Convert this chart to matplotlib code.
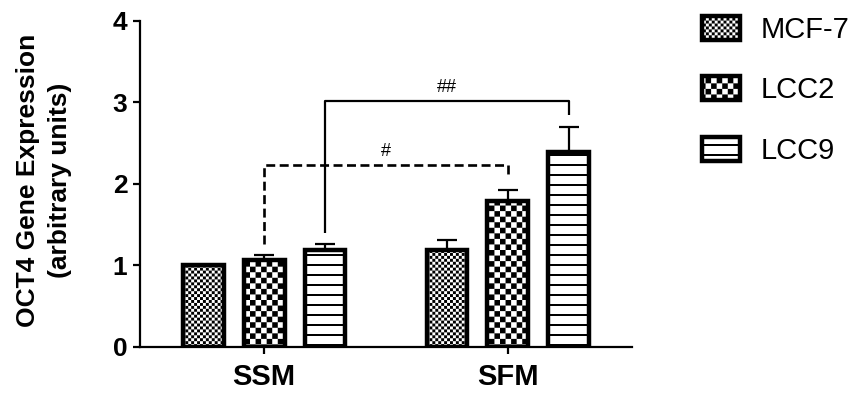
import warnings
import numpy as np
import matplotlib
matplotlib.use("Agg")
import matplotlib.pyplot as plt
import matplotlib.hatch as mhatch
from matplotlib.path import Path
from matplotlib.font_manager import FontProperties

warnings.filterwarnings("ignore")

# ---------------------------------------------------------------- data
groups = ["SSM", "SFM"]
cell_lines = ["MCF-7", "LCC2", "LCC9"]

mcf7_mean = [1.00, 1.19]
mcf7_err = [0.00, 0.12]
lcc2_mean = [1.06, 1.79]
lcc2_err = [0.07, 0.13]
lcc9_mean = [1.19, 2.39]
lcc9_err = [0.07, 0.31]

y_ticks = [0, 1, 2, 3, 4]

# significance brackets: (cell line, label, bar height, left end, right end)
sig_lines = ["LCC2", "LCC9"]
sig_labels = ["#", "##"]
sig_heights = [2.23, 3.02]
sig_left_ends = [1.26, 1.39]
sig_right_ends = [2.11, 2.84]
sig_styles = ["dashed", "solid"]


# ---------------------------------------------------------------- fill patterns
class _Checker(mhatch.HatchPatternBase):
    """Filled checkerboard; `pairs` dark/light pairs per inch."""
    symbol = ""
    pairs = 0

    def __init__(self, hatch, density):
        self.n = 2 * self.pairs if (hatch and self.symbol in hatch) else 0
        self.num_vertices = (self.n * self.n // 2) * 5

    def set_vertices_and_codes(self, vertices, codes):
        n = self.n
        s = 1.0 / n
        sq = np.array([[0, 0], [s, 0], [s, s], [0, s], [0, 0]], float)
        sq_codes = [Path.MOVETO, Path.LINETO, Path.LINETO, Path.LINETO,
                    Path.CLOSEPOLY]
        k = 0
        for i in range(n):
            for j in range(n):
                if (i + j) % 2 == 0:
                    vertices[k:k + 5] = sq + [i * s, j * s]
                    codes[k:k + 5] = sq_codes
                    k += 5


class FineChecker(_Checker):
    symbol = "k"
    pairs = 17


class CoarseChecker(_Checker):
    symbol = "c"
    pairs = 9


class Stripes(mhatch.HatchPatternBase):
    """Filled horizontal stripes, `lines` per inch."""
    symbol = "h"
    lines = 10
    thickness = 0.02

    def __init__(self, hatch, density):
        self.k = self.lines if (hatch and self.symbol in hatch) else 0
        self.num_vertices = self.k * 5

    def set_vertices_and_codes(self, vertices, codes):
        t = self.thickness
        rc = [Path.MOVETO, Path.LINETO, Path.LINETO, Path.LINETO,
              Path.CLOSEPOLY]
        for r in range(self.k):
            y0 = r / self.k + 0.04
            vertices[r * 5:(r + 1) * 5] = [[0, y0], [1, y0], [1, y0 + t],
                                           [0, y0 + t], [0, y0]]
            codes[r * 5:(r + 1) * 5] = rc


mhatch._hatch_types.extend([FineChecker, CoarseChecker, Stripes])

plt.rcParams["hatch.linewidth"] = 0.0
plt.rcParams["font.family"] = ["Liberation Sans", "DejaVu Sans"]

# ---------------------------------------------------------------- figure
fig = plt.figure(figsize=(8.57, 4.01), dpi=100)
ax = fig.add_axes([140 / 857, 1 - 346.7 / 401, (632 - 140) / 857,
                   (346.7 - 20.7) / 401])

x = np.arange(len(groups))
offsets = [-0.25, 0.0, 0.25]
width = 0.167
series = [(mcf7_mean, mcf7_err, "k"), (lcc2_mean, lcc2_err, "c"),
          (lcc9_mean, lcc9_err, "h")]

handles = []
for (mean, err, hatch), off, name in zip(series, offsets, cell_lines):
    bars = ax.bar(x + off, mean, width, facecolor="white", edgecolor="black",
                  linewidth=3.2, hatch=hatch, zorder=3, label=name)
    handles.append(bars)
    err = np.asarray(err)
    keep = err > 0
    if keep.any():
        ax.errorbar((x + off)[keep], np.asarray(mean)[keep],
                    yerr=[np.zeros(keep.sum()), err[keep]], fmt="none",
                    ecolor="black", elinewidth=1.6, capsize=7.5,
                    capthick=1.6, zorder=2)

# significance brackets between the two media
for line, lab, h, y0, y1, st in zip(sig_lines, sig_labels, sig_heights,
                                    sig_left_ends, sig_right_ends, sig_styles):
    i = cell_lines.index(line)
    xa, xb = x[0] + offsets[i], x[1] + offsets[i]
    kw = dict(color="black", zorder=4, solid_capstyle="butt")
    if st == "dashed":
        ax.plot([xa, xa, xb, xb], [y0, h, h, y1], lw=1.9,
                dashes=(3.4, 1.7), dash_capstyle="butt", **kw)
    else:
        ax.plot([xa, xa, xb, xb], [y0, h, h, y1], lw=1.6, **kw)
    ax.text((xa + xb) / 2, h + 0.06, lab, ha="center", va="bottom",
            fontsize=13)

# ---------------------------------------------------------------- axes styling
ax.set_xlim(-0.51, 1.51)
ax.set_ylim(0, 4)
ax.set_yticks(y_ticks)
ax.set_xticks(x)
ax.set_xticklabels(groups)
for s in ["top", "right"]:
    ax.spines[s].set_visible(False)
for s in ["left", "bottom"]:
    ax.spines[s].set_linewidth(1.6)
ax.tick_params(axis="y", length=5, width=1.6, pad=4, labelsize=19)
ax.tick_params(axis="x", length=5, width=1.6, pad=7, labelsize=21)
for lbl in ax.get_yticklabels() + ax.get_xticklabels():
    lbl.set_fontweight("bold")

fig.text(44 / 857, 1 - 180 / 401, "OCT4 Gene Expression\n(arbitrary units)",
         rotation=90, ha="center", va="center", fontsize=19,
         fontweight="bold", multialignment="center", linespacing=1.45)

ax.legend(handles, cell_lines, loc="upper left",
          bbox_to_anchor=(702 / 857, 1 - 16 / 401),
          bbox_transform=fig.transFigure, frameon=False,
          prop=FontProperties(family="Liberation Sans", size=21),
          handlelength=1.3, handleheight=0.9, handletextpad=0.7,
          labelspacing=1.1, borderpad=0, borderaxespad=0)

fig.savefig("out.png", dpi=100)
